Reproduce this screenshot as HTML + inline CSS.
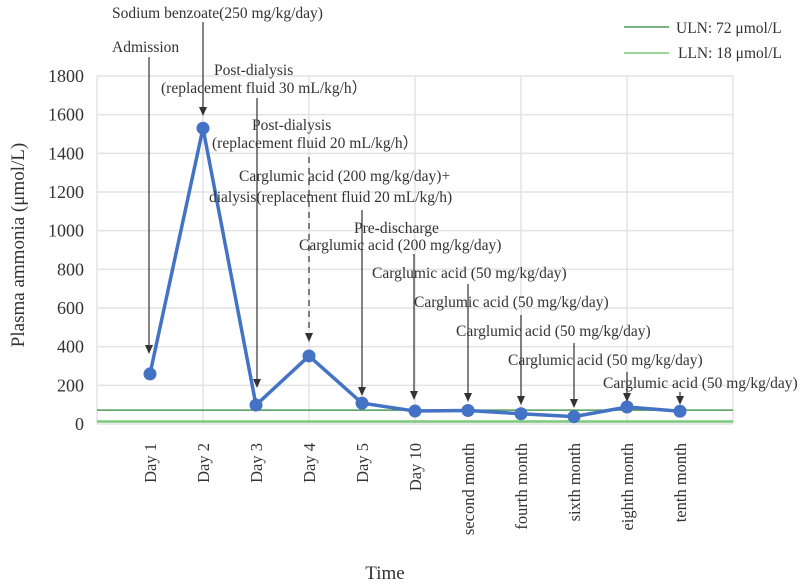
<!DOCTYPE html>
<html><head><meta charset="utf-8"><style>
body{margin:0;background:#fff}
svg{display:block;font-family:"Liberation Serif",serif}
</style></head><body>
<svg id="c" width="807" height="586"></svg>
<script>
const categories=["Day 1","Day 2","Day 3","Day 4","Day 5","Day 10","second month","fourth month","sixth month","eighth month","tenth month"];
const values=[259,1530,98,352,108,67,70,53,38,88,66];
const yTicks=[0,200,400,600,800,1000,1200,1400,1600,1800];
const uln=72, lln=18;
const ns="http://www.w3.org/2000/svg";
const svg=document.getElementById('c');
const L=97,R=733,T=76,B=424,ymax=1800;
const step=(R-L)/12;
const xs=i=>L+step*(i+1);
const ys=v=>B-(v/ymax)*(B-T);
function el(t,a,p){const e=document.createElementNS(ns,t);for(const k in a)e.setAttribute(k,a[k]);(p||svg).appendChild(e);return e;}
// grid
yTicks.forEach(v=>{const g=el('line',{x1:L,x2:R,y1:ys(v),y2:ys(v),stroke:'#e3e3e3','stroke-width':1.5});


const t=el('text',{x:84,y:ys(v)+6,'text-anchor':'end','font-size':18,fill:'#333'});t.textContent=v;

});
for(let k=0;k<=6;k++){const x=L+k*2*step;const g=el('line',{x1:x,x2:x,y1:T,y2:B,stroke:'#e3e3e3','stroke-width':1.5});

}
// reference lines
const u=el('line',{x1:L,x2:R,y1:ys(uln),y2:ys(uln),stroke:'#4f9a5a','stroke-width':1.5});


const l=el('line',{x1:L,x2:R,y1:ys(lln)+1,y2:ys(lln)+1,stroke:'#7cc97c','stroke-width':2.5});


// series
const pl=el('polyline',{points:values.map((v,i)=>xs(i)+','+ys(v)).join(' '),fill:'none',stroke:'#4472c4','stroke-width':3.5,'stroke-linejoin':'round'});


values.forEach((v,i)=>{const c=el('circle',{cx:xs(i),cy:ys(v),r:6.5,fill:'#4472c4'});

});
// x labels
categories.forEach((c,i)=>{const t=el('text',{transform:`translate(${xs(i)+6},443) rotate(-90)`,'text-anchor':'end','font-size':16.5,fill:'#333'});t.textContent=c;

});
// axis titles
const xt=el('text',{x:385,y:579,'text-anchor':'middle','font-size':19,fill:'#333'});xt.textContent='Time';


const yt=el('text',{transform:'translate(24,245) rotate(-90)','text-anchor':'middle','font-size':19,fill:'#333'});yt.textContent='Plasma ammonia (μmol/L)';


// annotations
const ann=[
[["Sodium benzoate(250 mg/kg/day)"],112,[18],203,22,116,0],
[["Admission"],112,[52],149,57,354,0],
[["Post-dialysis","(replacement fluid 30 mL/kg/h）"],[214,161],[75,93],257,98,388,0],
[["Post-dialysis","(replacement fluid 20 mL/kg/h）"],[252,212],[130,148],309,157,342,1],
[["Carglumic acid (200 mg/kg/day)+","dialysis(replacement fluid 20 mL/kg/h)"],[239,209],[181,202],362,210,396,0],
[["Pre-discharge","Carglumic acid (200 mg/kg/day)"],[354,299],[233,250],414,254,400,0],
[["Carglumic acid (50 mg/kg/day)"],372,[278],468,284,402,0],
[["Carglumic acid (50 mg/kg/day)"],414,[307],521,315,405,0],
[["Carglumic acid (50 mg/kg/day)"],456,[336],574,343,408,0],
[["Carglumic acid (50 mg/kg/day)"],508,[365],627,372,402,0],
[["Carglumic acid (50 mg/kg/day)"],603,[388],680,392,405,0]];
ann.forEach(a=>{a[0].forEach((s,j)=>{const x=Array.isArray(a[1])?a[1][j]:a[1];
const t=el('text',{x:x,y:a[2][j],'font-size':15.5,fill:'#333'});t.textContent=s;

});
const ar=el('line',{x1:a[3],x2:a[3],y1:a[4],y2:a[5]-8,stroke:'#333','stroke-width':1.2,'stroke-dasharray':a[6]?'6,5':'none'});


const h=el('path',{d:`M${a[3]-4},${a[5]-9} L${a[3]+4},${a[5]-9} L${a[3]},${a[5]} Z`,fill:'#333'});

});
// legend
const lg1=el('line',{x1:624,x2:669,y1:27,y2:27,stroke:'#4f9a5a','stroke-width':1.5});


const lt1=el('text',{x:676,y:33,'font-size':15.5,fill:'#333'});lt1.textContent='ULN: 72 μmol/L';


const lg2=el('line',{x1:624,x2:669,y1:53,y2:53,stroke:'#7cc97c','stroke-width':1.5});


const lt2=el('text',{x:678,y:58,'font-size':15.5,fill:'#333'});lt2.textContent='LLN: 18 μmol/L';


</script>
</body></html>
